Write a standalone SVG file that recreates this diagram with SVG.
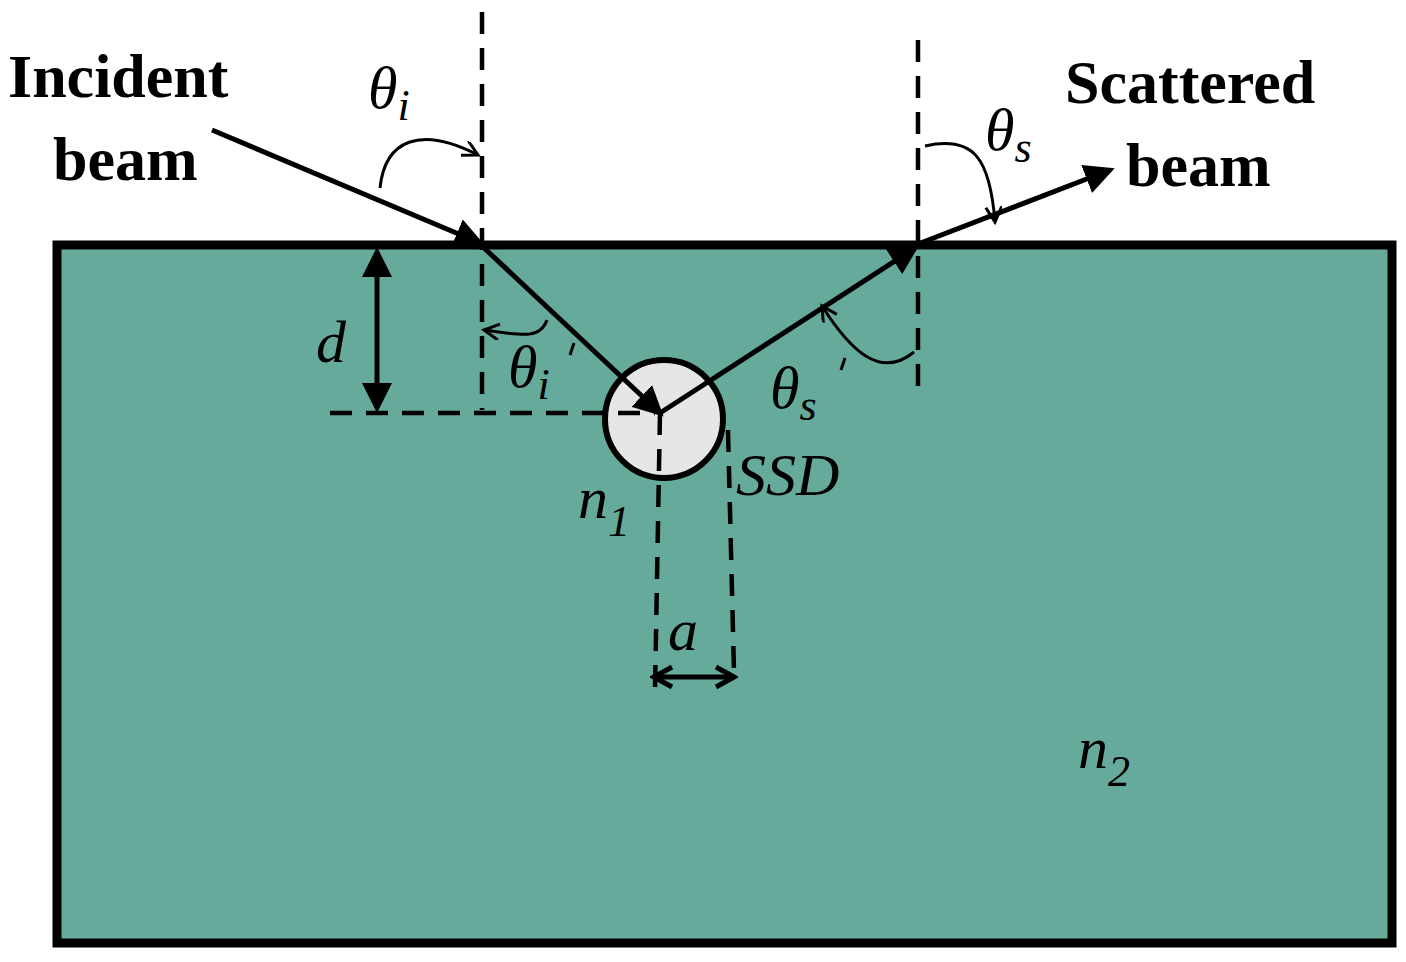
<svg xmlns="http://www.w3.org/2000/svg" width="1406" height="962" viewBox="0 0 1406 962">
<style>
.ln{stroke:#000;stroke-width:5;fill:none}
.ds{stroke:#000;stroke-width:4.5;fill:none;stroke-dasharray:22,14}
.th{stroke:#000;stroke-width:3;fill:none}
.b{font-family:"Liberation Serif",serif;font-weight:bold;font-size:62px}
.i{font-family:"Liberation Serif",serif;font-style:italic;font-size:60px}
.s{font-family:"Liberation Serif",serif;font-style:italic;font-size:44px}
</style>
<defs>
<marker id="ah" markerWidth="6" markerHeight="6" refX="5" refY="3" orient="auto-start-reverse" markerUnits="strokeWidth"><path d="M0,0L6,3L0,6z" fill="#000"/></marker>
<marker id="oa" markerWidth="20" markerHeight="20" refX="17" refY="8" orient="auto" markerUnits="userSpaceOnUse"><path d="M2,0L17,8L2,16" stroke="#000" stroke-width="3" fill="none"/></marker>
<marker id="va" markerWidth="24" markerHeight="24" refX="20" refY="12" orient="auto-start-reverse" markerUnits="userSpaceOnUse"><path d="M2,2L20,12L2,22" stroke="#000" stroke-width="5" fill="none"/></marker>
</defs>
<g id="medium"><rect x="57" y="245" width="1335" height="698" fill="#66aa9c" stroke="#000" stroke-width="9"/></g>
<g id="particle"><circle cx="664" cy="419" r="59" fill="#e6e6e6" stroke="#000" stroke-width="6"/></g>
<g id="connectors">
<line class="ds" x1="482" y1="12" x2="482" y2="410"/>
<line class="ds" x1="918" y1="40" x2="918" y2="390"/>
<line class="ds" x1="330" y1="413" x2="655" y2="413"/>
<line class="ds" x1="660" y1="413" x2="655" y2="690"/>
<line class="ds" x1="728" y1="430" x2="734" y2="672"/>
<line class="ln" x1="212" y1="130" x2="480" y2="243" marker-end="url(#ah)"/>
<line class="ln" x1="482" y1="246" x2="660" y2="413" marker-end="url(#ah)"/>
<line class="ln" x1="660" y1="413" x2="915" y2="248" marker-end="url(#ah)"/>
<line class="ln" x1="918" y1="244" x2="1110" y2="170" marker-end="url(#ah)"/>
<line class="ln" x1="377" y1="252" x2="377" y2="408" marker-start="url(#ah)" marker-end="url(#ah)"/>
<line class="ln" x1="654" y1="677" x2="734" y2="677" marker-start="url(#va)" marker-end="url(#va)"/>
<path class="th" d="M380,188 C385,140 420,125 478,155" marker-end="url(#oa)"/>
<path class="th" d="M925,146 C975,135 990,160 995,222" marker-end="url(#oa)"/>
<path class="th" d="M547,320 C540,340 520,335 484,330" marker-end="url(#oa)"/>
<path class="th" d="M914,352 C880,380 850,350 822,306" marker-end="url(#oa)"/>
<line class="th" x1="574" y1="343" x2="570" y2="355"/>
<line class="th" x1="845" y1="358" x2="841" y2="370"/>
</g>
<g id="labels">
<text class="b" x="8" y="97">Incident</text>
<text class="b" x="53" y="180">beam</text>
<text class="b" x="1065" y="103">Scattered</text>
<text class="b" x="1126" y="186">beam</text>
<text class="i" x="368" y="108">θ<tspan class="s" dy="12">i</tspan></text>
<text class="i" x="985" y="150">θ<tspan class="s" dy="12">s</tspan></text>
<text class="i" x="508" y="387">θ<tspan class="s" dy="12">i</tspan></text>
<text class="i" x="770" y="408">θ<tspan class="s" dy="12">s</tspan></text>
<text class="i" x="316" y="362">d</text>
<text class="i" x="736" y="495">SSD</text>
<text class="i" x="578" y="518">n<tspan class="s" dy="18">1</tspan></text>
<text class="i" x="668" y="650">a</text>
<text class="i" x="1078" y="768">n<tspan class="s" dy="18">2</tspan></text>
</g>
</svg>
